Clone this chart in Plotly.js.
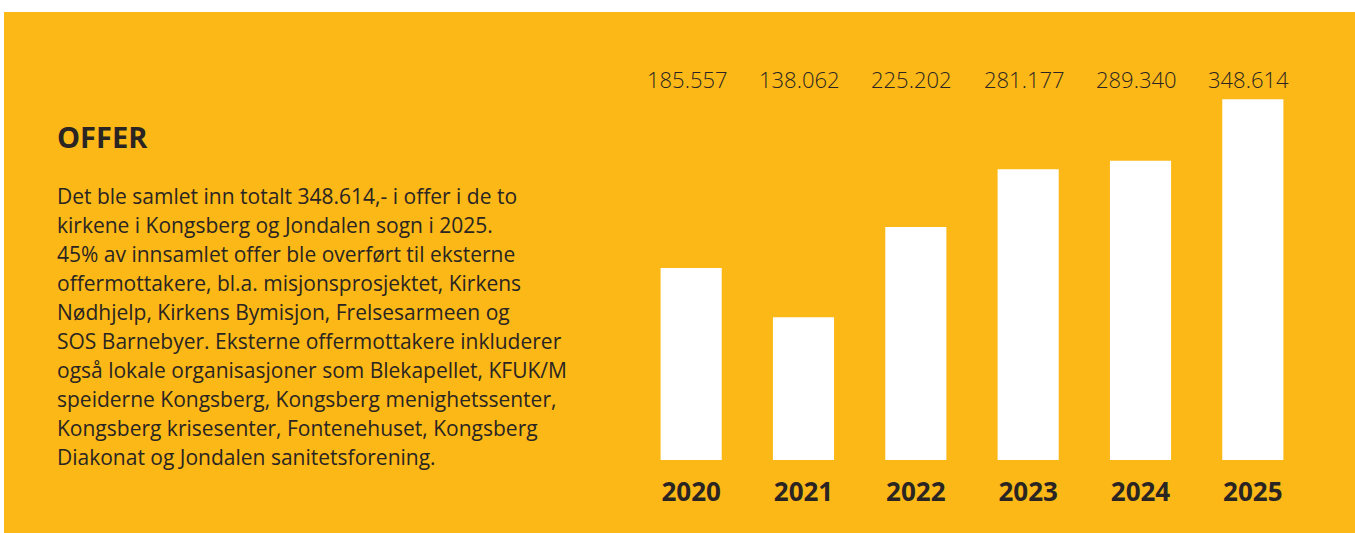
<!DOCTYPE html>
<html>
<head>
<meta charset="utf-8">
<script src="https://cdn.plot.ly/plotly-3.0.1.min.js"></script>
<style>
html,body{margin:0;padding:0;background:#ffffff;}
#chart{width:1355px;height:533px;}
</style>
</head>
<body>
<div id="chart"></div>
<script>
// ---- data ----
var years = ["2020", "2021", "2022", "2023", "2024", "2025"];
var offerValues = [185557, 138062, 225202, 281177, 289340, 348614];
var titleText = "OFFER";
var paragraphLines = [
  "Det ble samlet inn totalt 348.614,- i offer i de to",
  "kirkene i Kongsberg og Jondalen sogn i 2025.",
  "45% av innsamlet offer ble overført til eksterne",
  "offermottakere, bl.a. misjonsprosjektet, Kirkens",
  "Nødhjelp, Kirkens Bymisjon, Frelsesarmeen og",
  "SOS Barnebyer. Eksterne offermottakere inkluderer",
  "også lokale organisasjoner som Blekapellet, KFUK/M",
  "speiderne Kongsberg, Kongsberg menighetssenter,",
  "Kongsberg krisesenter, Fontenehuset, Kongsberg",
  "Diakonat og Jondalen sanitetsforening."
];

// ---- layout helpers ----
var W = 1355, H = 533;
var M = {l: 635, r: 46, t: 40, b: 73};
var plotW = W - M.l - M.r, plotH = H - M.t - M.b;
function px2paperX(p){ return (p - M.l) / plotW; }
function px2paperY(p){ return (H - M.b - p) / plotH; }
function fmt(v){ return String(v).replace(/\B(?=(\d{3})+(?!\d))/g, "."); }

var YELLOW = "#FBB817";
var DARK = "#2a2522";
var FONT = "Open Sans, sans-serif";

var annotations = [];
// value labels in a fixed row above the bars (x = category index)
years.forEach(function(yr, i){
  annotations.push({
    x: i, xref: "x", y: px2paperY(79), yref: "paper",
    text: fmt(offerValues[i]), showarrow: false,
    xanchor: "center", yanchor: "middle", xshift: -4,
    font: {family: FONT, size: 22, color: DARK, weight: 300}
  });
});
// title
annotations.push({
  x: px2paperX(55), xref: "paper", y: px2paperY(136), yref: "paper",
  text: "<b>" + titleText + "</b>", showarrow: false,
  xanchor: "left", yanchor: "middle",
  font: {family: FONT, size: 29, color: DARK}
});
// paragraph lines
var fs = 21;
paragraphLines.forEach(function(line, i){
  var baseline = 204 + 29 * i;
  annotations.push({
    x: px2paperX(55), xref: "paper", y: px2paperY(baseline - 0.36 * fs), yref: "paper",
    text: line, showarrow: false, xanchor: "left", yanchor: "middle",
    font: {family: FONT, size: fs, color: DARK}
  });
});

var trace = {
  type: "bar",
  x: years,
  y: offerValues,
  marker: {color: "#ffffff", line: {width: 0}},
  hoverinfo: "none"
};

var layout = {
  width: W, height: H,
  margin: M,
  paper_bgcolor: YELLOW,
  plot_bgcolor: YELLOW,
  bargap: 0.456,
  showlegend: false,
  xaxis: {
    type: "category",
    range: [-0.5, 5.5],
    showgrid: false, zeroline: false, showline: false, ticks: "",
    tickfont: {family: FONT, size: 26, color: DARK, weight: 700},
    ticklabelstandoff: 14
  },
  yaxis: {
    range: [0, 406000],
    visible: false, showgrid: false, zeroline: false
  },
  shapes: [
    {type: "rect", xref: "paper", yref: "paper", layer: "above",
     x0: px2paperX(-20), x1: px2paperX(1400), y0: px2paperY(12), y1: px2paperY(-20),
     fillcolor: "#ffffff", line: {width: 0}},
    {type: "rect", xref: "paper", yref: "paper", layer: "above",
     x0: px2paperX(-20), x1: px2paperX(4), y0: px2paperY(560), y1: px2paperY(-20),
     fillcolor: "#ffffff", line: {width: 0}}
  ],
  annotations: annotations
};

Plotly.newPlot("chart", [trace], layout, {displayModeBar: false, staticPlot: true});
</script>
</body>
</html>
